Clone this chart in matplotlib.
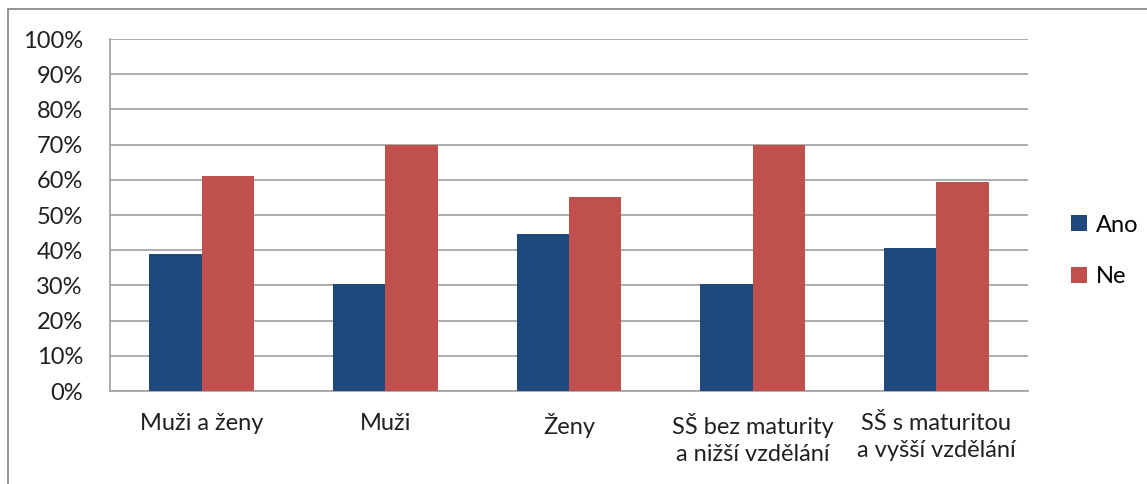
import matplotlib
matplotlib.use("Agg")
import matplotlib.pyplot as plt
from matplotlib.patches import Rectangle
import numpy as np

categories = ["Muži a ženy", "Muži", "Ženy", "SŠ bez maturity\na nižší vzdělání", "SŠ s maturitou\na vyšší vzdělání"]
ano = [39.0, 30.4, 44.6, 30.4, 40.6]
ne = [61.0, 69.9, 55.2, 69.9, 59.3]
series_names = ["Ano", "Ne"]
yticks = list(range(0, 101, 10))
ytick_labels = [f"{v}%" for v in yticks]

plt.rcParams['font.family'] = ['Lato', 'DejaVu Sans']
W, H = 1147, 484
fig = plt.figure(figsize=(W / 100, H / 100), dpi=100)
ax = fig.add_axes([110 / W, 1 - 391 / H, (1028 - 110) / W, (391 - 39) / H])

x = np.arange(len(categories))
bw = 0.285
ax.bar(x - bw / 2, ano, bw, color="#1F497D", label=series_names[0], zorder=3)
ax.bar(x + bw / 2, ne, bw, color="#C0504D", label=series_names[1], zorder=3)

fs = 17
ax.set_xlim(-0.5, len(categories) - 0.5)
ax.set_ylim(0, 100)
ax.set_yticks(yticks)
ax.set_yticklabels(ytick_labels, fontsize=fs, color="#202020")
ax.set_xticks(x)
ax.set_xticklabels(categories, fontsize=fs, color="#202020", linespacing=1.35)
ax.tick_params(axis="both", length=0)
ax.tick_params(axis="y", pad=19.5)
ax.tick_params(axis="x", pad=16)
ax.grid(axis="y", color="#a0a0a0", linewidth=1.2, zorder=0)
for s in ["top", "right"]:
    ax.spines[s].set_visible(False)
for s in ["left", "bottom"]:
    ax.spines[s].set_color("#a0a0a0")
    ax.spines[s].set_linewidth(1.2)

leg = fig.legend(loc="center left", bbox_to_anchor=(1050 / W, 1 - 251 / H), frameon=False,
                 fontsize=fs, handlelength=0.65, handleheight=0.65, handletextpad=0.4,
                 labelspacing=1.3)

fig.patches.append(Rectangle((8 / W, -0.1), 1.2, 1 - 9 / H + 0.1, transform=fig.transFigure,
                             fill=False, edgecolor="#8c8c8c", linewidth=1.3))

fig.savefig("out.png", dpi=100)
